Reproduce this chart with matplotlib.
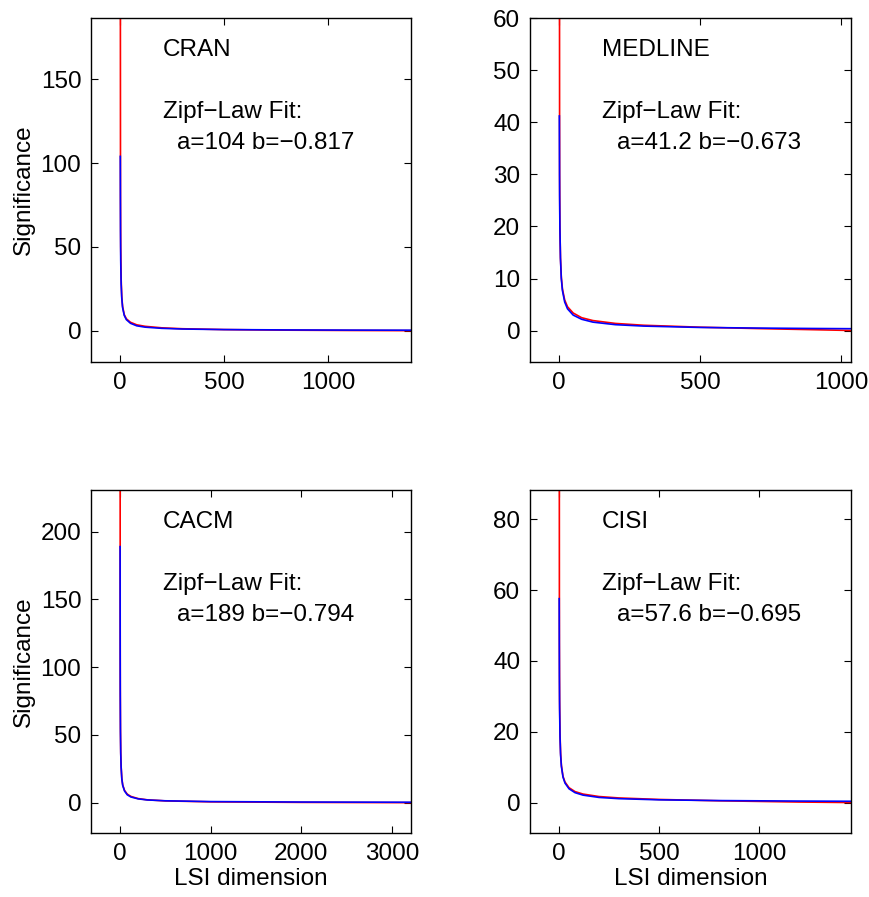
import matplotlib
matplotlib.use("Agg")
import matplotlib.pyplot as plt

plt.rcParams['font.family'] = ['Liberation Sans', 'DejaVu Sans']
plt.rcParams['font.size'] = 17.5

# LSI dimension sample points and significance values
cran_x = [1, 2, 3, 5, 8, 12, 20, 30, 50, 80, 120, 200, 300, 500, 800, 1100, 1398]
cran_red = [260, 80, 50, 31, 20.5, 14.5, 9.6, 7.1, 5.0, 3.5, 2.6, 1.7, 1.15, 0.65, 0.3, 0.12, 0.0]
cran_blue = [104, 59, 42, 28, 19.5, 13.8, 9.1, 6.6, 4.4, 2.9, 2.1, 1.4, 0.98, 0.65, 0.44, 0.34, 0.28]

med_x = [1, 2, 3, 5, 8, 12, 20, 30, 50, 80, 120, 200, 300, 500, 700, 900, 1033]
med_red = [120, 30, 20, 14, 10.3, 8.0, 5.9, 4.6, 3.4, 2.5, 1.95, 1.4, 1.05, 0.68, 0.42, 0.2, 0.05]
med_blue = [41.2, 25.8, 19.7, 13.9, 10.0, 7.7, 5.5, 4.2, 3.0, 2.2, 1.65, 1.16, 0.89, 0.63, 0.51, 0.43, 0.39]

cacm_x = [1, 2, 3, 5, 8, 12, 20, 30, 50, 80, 120, 200, 300, 500, 1000, 2000, 3204]
cacm_red = [420, 140, 85, 55, 37, 27, 18, 13, 9.0, 6.3, 4.6, 3.0, 2.1, 1.3, 0.6, 0.2, 0.0]
cacm_blue = [189, 109, 79, 52, 36.5, 26.5, 17.4, 12.7, 8.6, 5.8, 4.2, 2.8, 2.0, 1.37, 0.79, 0.46, 0.31]

cisi_x = [1, 2, 3, 5, 8, 12, 20, 30, 50, 80, 120, 200, 300, 500, 800, 1200, 1460]
cisi_red = [180, 45, 29, 19.5, 14, 10.5, 7.4, 5.8, 4.2, 3.1, 2.4, 1.7, 1.3, 0.88, 0.5, 0.15, 0.0]
cisi_blue = [57.6, 35.6, 26.8, 18.6, 13.4, 10.2, 7.2, 5.5, 3.9, 2.8, 2.1, 1.45, 1.1, 0.77, 0.56, 0.42, 0.36]

panels = [
    ("CRAN", "a=104 b=\u22120.817", cran_x, cran_red, cran_blue,
     (-140, 1400), (-18.7, 186.6), [0, 500, 1000], [0, 50, 100, 150]),
    ("MEDLINE", "a=41.2 b=\u22120.673", med_x, med_red, med_blue,
     (-103, 1035), (-6, 60), [0, 500, 1000], [0, 10, 20, 30, 40, 50, 60]),
    ("CACM", "a=189 b=\u22120.794", cacm_x, cacm_red, cacm_blue,
     (-320, 3210), (-22.4, 230.8), [0, 1000, 2000, 3000], [0, 50, 100, 150, 200]),
    ("CISI", "a=57.6 b=\u22120.695", cisi_x, cisi_red, cisi_blue,
     (-145, 1460), (-8.6, 88.3), [0, 500, 1000], [0, 20, 40, 60, 80]),
]

W, H = 870, 897
fig = plt.figure(figsize=(W / 100, H / 100), dpi=100)

# axes boxes in pixels: left, top, right, bottom
boxes = [(91, 18, 411, 362), (530, 18, 851, 362),
         (91, 490, 411, 833), (530, 490, 851, 833)]

for i, (name, fit, x, red, blue, xl, yl, xt, yt) in enumerate(panels):
    l, t, r, b = boxes[i]
    ax = fig.add_axes([l / W, 1 - b / H, (r - l) / W, (b - t) / H])
    ax.plot(x, red, color='red', lw=1.2)
    ax.plot(x, blue, color='blue', lw=1.2)
    ax.set_xlim(xl)
    ax.set_ylim(yl)
    ax.set_xticks(xt)
    ax.set_yticks(yt)
    ax.tick_params(direction='in', top=True, right=True, length=5, width=0.8, pad=7)
    for s in ax.spines.values():
        s.set_linewidth(1.0)
    ax.text(0.225, 0.907, name, transform=ax.transAxes, va='center', ha='left')
    ax.text(0.225, 0.727, "Zipf\u2212Law Fit:", transform=ax.transAxes, va='center', ha='left')
    ax.text(0.27, 0.637, fit, transform=ax.transAxes, va='center', ha='left')
    if i % 2 == 0:
        ax.set_ylabel("Significance", labelpad=4)
    if i >= 2:
        ax.set_xlabel("LSI dimension", labelpad=2)

fig.savefig("out.png", dpi=100)
